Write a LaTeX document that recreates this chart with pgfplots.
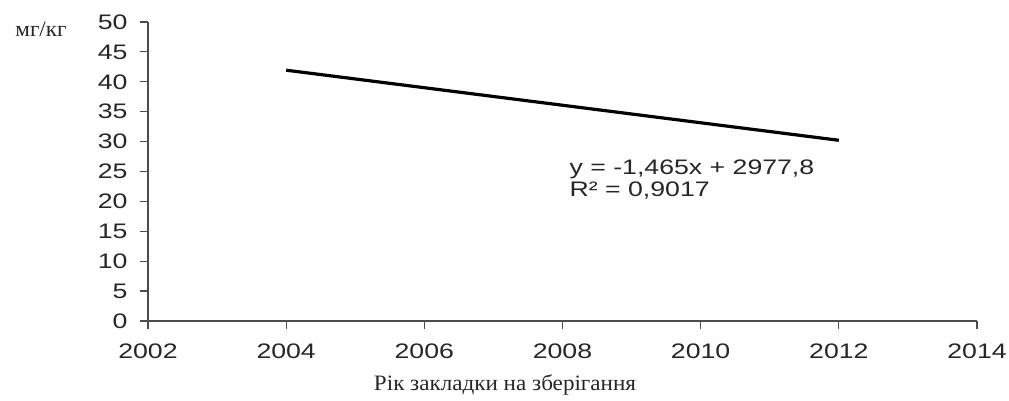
\documentclass[border=0pt]{standalone}
\usepackage{pgfplots}
\pgfplotsset{compat=1.18}
\usepackage{fontspec}
\setmainfont{Liberation Serif}[FakeStretch=1.05]
\newfontfamily\sansw{Liberation Sans}[FakeStretch=1.27]
\begin{document}
\begin{tikzpicture}[x=1pt,y=1pt]
\path[use as bounding box] (0,0) rectangle (1009,401);
\begin{axis}[
  at={(148pt,80pt)}, anchor=south west,
  scale only axis, width=829pt, height=299pt,
  xmin=2002, xmax=2014, ymin=0, ymax=50,
  xtick={2002,2004,...,2014}, ytick={0,5,...,50},
  axis x line*=bottom, axis y line*=left,
  axis line style={black!70, line width=1.2pt},
  tick style={black!70, line width=1.2pt},
  tick align=outside, major tick length=8pt,
  /pgf/number format/1000 sep={},
  /pgf/number format/assume math mode=true,
  ticklabel style={font=\sansw\fontsize{21}{24}\selectfont, text=black!85},
  xticklabel style={yshift=-11pt},
  yticklabel style={xshift=-9pt},
  clip=false,
]
\addplot[black, line width=3.2pt] coordinates {(2004,41.94) (2012,30.22)};
\node[anchor=west, align=left, font=\sansw\fontsize{21}{22}\selectfont, text=black!85, inner sep=0pt]
  at (axis cs:2008.1,23.6) {y = -1,465x + 2977,8\\R² = 0,9017};
\end{axis}
\node[font=\fontsize{22}{24}\selectfont, text=black!85] at (505,16) {Рік закладки на зберігання};
\node[font=\fontsize{22}{24}\selectfont, text=black!85] at (41,372) {мг/кг};
\end{tikzpicture}
\end{document}
